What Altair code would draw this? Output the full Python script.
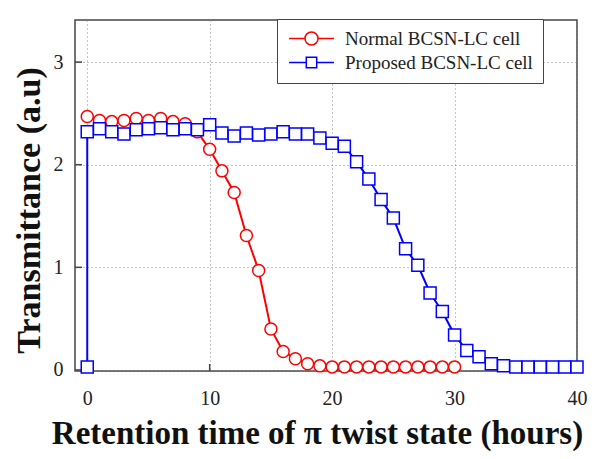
import altair as alt
import pandas as pd

# ---------------- data ----------------
series_names = ["Normal BCSN-LC cell", "Proposed BCSN-LC cell"]
series_colors = ["#ff0000", "#0000ff"]

normal_hours = [0, 1, 2, 3, 4, 5, 6, 7, 8, 9, 10, 11, 12, 13, 14, 15, 16, 17, 18, 19,
                20, 21, 22, 23, 24, 25, 26, 27, 28, 29, 30]
normal_vals = [2.47, 2.43, 2.42, 2.43, 2.45, 2.43, 2.45, 2.42, 2.40, 2.32,
               2.15, 1.94, 1.73, 1.31, 0.97, 0.40, 0.18, 0.11, 0.06, 0.04,
               0.03, 0.03, 0.03, 0.03, 0.03, 0.03, 0.03, 0.03, 0.03, 0.03, 0.03]

proposed_hours = [0, 0, 1, 2, 3, 4, 5, 6, 7, 8, 9, 10, 11, 12, 13, 14, 15, 16, 17, 18, 19,
                  20, 21, 22, 23, 24, 25, 26, 27, 28, 29, 30, 31, 32, 33, 34, 35, 36,
                  37, 38, 39, 40]
proposed_vals = [0.03, 2.32, 2.35, 2.32, 2.30, 2.34, 2.35, 2.36, 2.34, 2.35, 2.34,
                 2.39, 2.31, 2.28, 2.31, 2.29, 2.30, 2.32, 2.30, 2.30, 2.26,
                 2.21, 2.18, 2.03, 1.86, 1.66, 1.48, 1.18, 1.02, 0.75, 0.57,
                 0.34, 0.19, 0.13, 0.06, 0.04, 0.03, 0.03, 0.03, 0.03, 0.03, 0.03]

x_ticks = [0, 10, 20, 30, 40]
y_ticks = [0, 1, 2, 3]

# ---------------- tables ----------------
normal_df = pd.DataFrame({"hours": normal_hours, "value": normal_vals,
                          "series": series_names[0], "idx": range(len(normal_hours))})
proposed_df = pd.DataFrame({"hours": proposed_hours, "value": proposed_vals,
                            "series": series_names[1], "idx": range(len(proposed_hours))})
xtick_df = pd.DataFrame({"t": x_ticks})
ytick_df = pd.DataFrame({"t": y_ticks})

W, H = 502, 351
SERIF = "Liberation Serif"

x_scale = alt.Scale(domain=[-1, 40], nice=False, zero=False)
y_scale = alt.Scale(domain=[-0.01, 3.41], nice=False, zero=False)

x_axis = alt.Axis(values=x_ticks, title="Retention time of \u03c0 twist state (hours)",
                  labelFont=SERIF, labelFontSize=20, labelColor="#222", labelPadding=17,
                  labelFlush=False,
                  ticks=False, domain=False, grid=True, gridDash=[1, 3], gridColor="#888",
                  titleFont=SERIF, titleFontSize=33, titleFontWeight="bold", titleColor="#111",
                  titleX=242, titleY=72, titleAlign="center", titleBaseline="alphabetic",
                  titleAnchor="middle")
y_axis = alt.Axis(values=y_ticks, title="Transmittance (a.u)",
                  labelFont=SERIF, labelFontSize=20, labelColor="#222", labelPadding=12,
                  labelFlush=False,
                  ticks=False, domain=False, grid=True, gridDash=[1, 3], gridColor="#888",
                  titleFont=SERIF, titleFontSize=34, titleFontWeight="bold", titleColor="#111",
                  titleX=-36, titleY=190, titleAngle=270, titleAlign="center",
                  titleBaseline="alphabetic", titleAnchor="middle")

circle_path = "M-3.46,0L-1,0M1,0L3.46,0M1,0A1,1,0,1,1,-1,0A1,1,0,1,1,1,0"
square_path = "M-3.46,0L-0.8,0M0.8,0L3.46,0M-0.8,-0.8L0.8,-0.8L0.8,0.8L-0.8,0.8Z"

legend = alt.Legend(
    title=None,
    symbolType=alt.ExprRef(expr="datum.value === '" + series_names[0] + "' ? '"
                           + circle_path + "' : '" + square_path + "'"),
    symbolFillColor="white",
    symbolStrokeWidth=1.5,
)

color = alt.Color("series:N", scale=alt.Scale(domain=series_names, range=series_colors),
                  legend=legend)


def series_layers(df, shape):
    base = alt.Chart(df).encode(
        x=alt.X("hours:Q", scale=x_scale, axis=x_axis),
        y=alt.Y("value:Q", scale=y_scale, axis=y_axis),
        color=color,
        order=alt.Order("idx:Q"),
    )
    line = base.mark_line(strokeWidth=2)
    pts = base.mark_point(shape=shape, size=144, filled=False, fill="white",
                          strokeWidth=1.5, opacity=1)
    return [line, pts]


xticks = alt.Chart(xtick_df).mark_rule(color="#444", strokeWidth=1.5).encode(
    x=alt.X("t:Q", scale=x_scale, axis=x_axis),
    y=alt.value(H), y2=alt.value(H - 7),
)
yticks = alt.Chart(ytick_df).mark_rule(color="#444", strokeWidth=1.5).encode(
    y=alt.Y("t:Q", scale=y_scale, axis=y_axis),
    x=alt.value(0), x2=alt.value(7),
)

layers = [xticks, yticks] + series_layers(normal_df, "circle") + series_layers(proposed_df, "square")

chart = alt.layer(*layers).properties(
    width=W, height=H,
    autosize=alt.AutoSizeParams(type="none"),
    padding={"left": 67, "top": 12, "right": 16, "bottom": 80},
    background="white",
).configure_view(
    stroke="#444", strokeWidth=1.5
).configure_legend(
    orient="none", legendX=202, legendY=-1,
    padding=10, strokeColor="#444", fillColor="white",
    labelFont=SERIF, labelFontSize=19, labelColor="#222", labelLimit=400,
    symbolSize=169, symbolOffset=15, labelOffset=24, rowPadding=4,
)

chart.save("out.html", embed_options={"renderer": "svg", "actions": False})
